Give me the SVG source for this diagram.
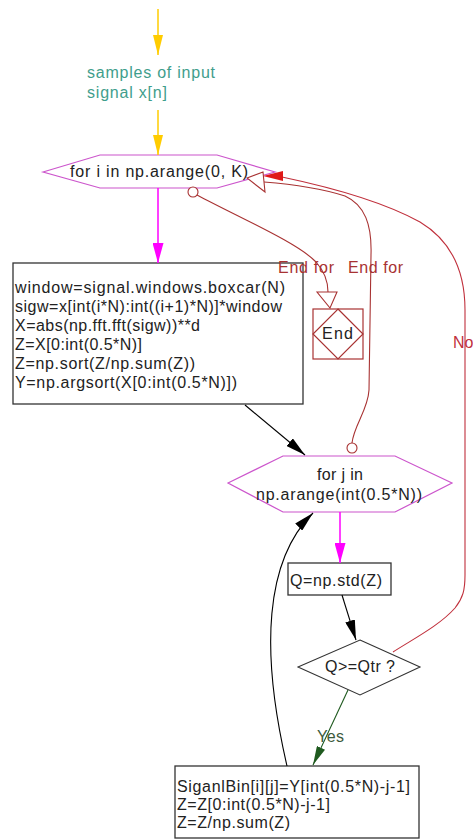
<svg xmlns="http://www.w3.org/2000/svg" width="473" height="839" viewBox="0 0 473 839">
  <style>
    text { font-family: "Liberation Sans", Arial, sans-serif; font-size: 16px; fill: #222; }
    .box { fill: #fff; stroke: #333; stroke-width: 1.3; }
    .loop { fill: #fff; stroke: #cc55cc; stroke-width: 1.2; }
    .red { fill: none; stroke: #a83232; stroke-width: 1.1; }
    .no { fill: none; stroke: #c0303c; stroke-width: 1.1; }
    .lbl-red { fill: #a83232; }
    .lbl-no { fill: #c0303c; }
    .lbl-in { fill: #3f9e8c; }
    .lbl-yes { fill: #3c5a3c; }
  </style>
  <defs>
    <marker id="ahYellow" markerUnits="userSpaceOnUse" markerWidth="20" markerHeight="10" refX="20" refY="5" orient="auto">
      <path d="M0,0 L20,5 L0,10 z" fill="#ffcc00"/>
    </marker>
    <marker id="ahMagenta" markerUnits="userSpaceOnUse" markerWidth="20" markerHeight="11" refX="20" refY="5.5" orient="auto">
      <path d="M0,0 L20,5.5 L0,11 z" fill="#ff00ff"/>
    </marker>
    <marker id="ahBlack" markerUnits="userSpaceOnUse" markerWidth="20" markerHeight="10" refX="20" refY="5" orient="auto">
      <path d="M0,0 L20,5 L0,10 z" fill="#000"/>
    </marker>
    <marker id="ahGreen" markerUnits="userSpaceOnUse" markerWidth="19" markerHeight="9" refX="19" refY="4.5" orient="auto">
      <path d="M0,0 L19,4.5 L0,9 z" fill="#1f5a1f"/>
    </marker>
  </defs>

  <!-- input -->
  <g id="input">
    <text class="lbl-in" x="87" y="78" textLength="128" lengthAdjust="spacing">samples of input</text>
    <text class="lbl-in" x="87" y="98" textLength="80" lengthAdjust="spacing">signal x[n]</text>
  </g>

  <!-- outer loop -->
  <g id="loop-i">
    <polygon class="loop" points="43,172 100,155 217,155 275,172 217,188 100,188"/>
    <text x="70" y="177" textLength="178" lengthAdjust="spacing">for i in np.arange(0, K)</text>
  </g>

  <!-- spectrum block -->
  <g id="spectrum">
    <rect class="box" x="13" y="263" width="290" height="141"/>
    <text x="15" y="293" textLength="270" lengthAdjust="spacing">window=signal.windows.boxcar(N)</text>
    <text x="15" y="312" textLength="267" lengthAdjust="spacing">sigw=x[int(i*N):int((i+1)*N)]*window</text>
    <text x="15" y="331" textLength="185" lengthAdjust="spacing">X=abs(np.fft.fft(sigw))**d</text>
    <text x="15" y="350" textLength="127" lengthAdjust="spacing">Z=X[0:int(0.5*N)]</text>
    <text x="15" y="369" textLength="180" lengthAdjust="spacing">Z=np.sort(Z/np.sum(Z))</text>
    <text x="15" y="388" textLength="222" lengthAdjust="spacing">Y=np.argsort(X[0:int(0.5*N)])</text>
  </g>

  <!-- end -->
  <g id="end">
    <rect x="313" y="309" width="50" height="50" fill="#fff" stroke="#a83232" stroke-width="1.2"/>
    <polygon points="338,309 363,334 338,359 313,334" fill="none" stroke="#a83232" stroke-width="1.2"/>
    <text x="322" y="339" textLength="31" lengthAdjust="spacing">End</text>
  </g>

  <!-- inner loop -->
  <g id="loop-j">
    <polygon class="loop" points="228,483 283,456 395,456 452,483 395,512 283,512"/>
    <text x="317" y="480" textLength="46" lengthAdjust="spacing">for j in</text>
    <text x="256" y="500" textLength="166" lengthAdjust="spacing">np.arange(int(0.5*N))</text>
  </g>

  <!-- std -->
  <g id="std">
    <rect class="box" x="288" y="563" width="103" height="32"/>
    <text x="290" y="586" textLength="92" lengthAdjust="spacing">Q=np.std(Z)</text>
  </g>

  <!-- decision -->
  <g id="decision">
    <polygon points="360,640 420,667 360,695 298,667" fill="#fff" stroke="#333" stroke-width="1.1"/>
    <text x="325" y="672" textLength="70" lengthAdjust="spacing">Q&gt;=Qtr ?</text>
  </g>

  <!-- update -->
  <g id="update">
    <rect class="box" x="175" y="766" width="244" height="72"/>
    <text x="177" y="792" textLength="233" lengthAdjust="spacing">SiganlBin[i][j]=Y[int(0.5*N)-j-1]</text>
    <text x="177" y="810" textLength="153" lengthAdjust="spacing">Z=Z[0:int(0.5*N)-j-1]</text>
    <text x="177" y="828" textLength="113" lengthAdjust="spacing">Z=Z/np.sum(Z)</text>
  </g>

  <!-- connectors -->
  <g id="connectors">
    <line x1="158" y1="9" x2="158" y2="55" stroke="#ffcc00" stroke-width="1.5" marker-end="url(#ahYellow)"/>
    <line x1="158" y1="110" x2="158" y2="155" stroke="#ffcc00" stroke-width="1.5" marker-end="url(#ahYellow)"/>
    <line x1="158" y1="188" x2="158" y2="263" stroke="#ff00ff" stroke-width="1.5" marker-end="url(#ahMagenta)"/>
    <line x1="245" y1="405" x2="305" y2="455" stroke="#000" stroke-width="1.1" marker-end="url(#ahBlack)"/>
    <line x1="340" y1="512" x2="340" y2="563" stroke="#ff00ff" stroke-width="1.5" marker-end="url(#ahMagenta)"/>
    <line x1="342" y1="595" x2="356" y2="640" stroke="#000" stroke-width="1.1" marker-end="url(#ahBlack)"/>
    <line x1="348" y1="690" x2="313" y2="765" stroke="#1f5a1f" stroke-width="1.1" marker-end="url(#ahGreen)"/>
    <path d="M287,766 C260,650 265,560 313,513" fill="none" stroke="#000" stroke-width="1.1" marker-end="url(#ahBlack)"/>

    <!-- outer loop exit to End -->
    <path class="red" d="M197,195 C240,218 298,243 316,262 C325,272 328,283 328,292"/>
    <polygon points="317,292 337,292 330,308" fill="#fff" stroke="#a83232" stroke-width="1.1"/>
    <circle cx="193" cy="192" r="5" fill="#fff" stroke="#a83232" stroke-width="1.1"/>

    <!-- inner loop back to outer loop -->
    <path class="red" d="M352,443 C354,425 368,410 369,390 L371,255 C372,225 365,205 345,196 C320,188 290,184 264,182"/>
    <circle cx="352" cy="448" r="5" fill="#fff" stroke="#a83232" stroke-width="1.1"/>

    <!-- No branch back to outer loop -->
    <path class="no" d="M393,652 C415,638 440,625 455,608 C463,598 465,590 465,575 L465,310 C465,270 450,240 420,222 C380,200 320,185 282,177"/>
    <polygon points="263,176 283,171 283,181" fill="#e01818"/>
    <polygon points="247,178 263,172 265,192" fill="#fff" stroke="#a83232" stroke-width="1.1"/>

    <text class="lbl-red" x="278" y="273" textLength="56" lengthAdjust="spacing">End for</text>
    <text class="lbl-red" x="348" y="273" textLength="55" lengthAdjust="spacing">End for</text>
    <text class="lbl-no" x="453" y="348">No</text>
    <text class="lbl-yes" x="317" y="742" textLength="27" lengthAdjust="spacing">Yes</text>
  </g>
</svg>
